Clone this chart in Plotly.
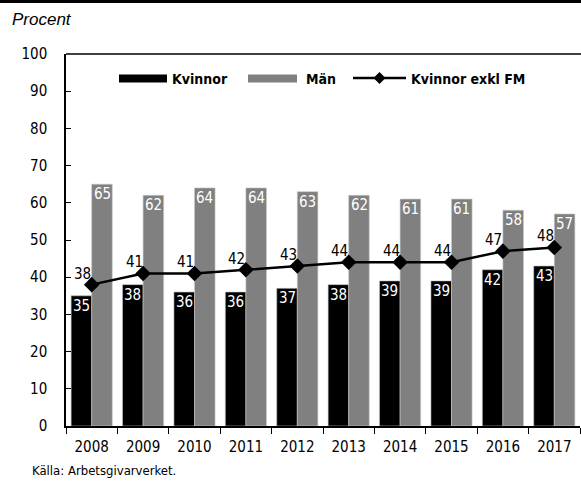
import plotly.graph_objects as go

years = ["2008", "2009", "2010", "2011", "2012", "2013", "2014", "2015", "2016", "2017"]
kvinnor = [35, 38, 36, 36, 37, 38, 39, 39, 42, 43]
man = [65, 62, 64, 64, 63, 62, 61, 61, 58, 57]
kvinnor_exkl_fm = [38, 41, 41, 42, 43, 44, 44, 44, 47, 48]
y_ticks = list(range(0, 101, 10))

W, H = 581, 484
L, R, T, B = 66, 1, 54, 58
PW, PH = W - L - R, H - T - B

def px_x(x):
    return (x - L) / PW

def px_y(y):
    return 1 - (y - T) / PH

NARROW = "DejaVu Sans Condensed, Liberation Sans Narrow, sans-serif"
REG = "Liberation Sans, Arial, sans-serif"

BAR_SHIFT = 10.3  # half of a bar's pixel width in group

fig = go.Figure()
fig.add_trace(go.Bar(
    x=years, y=kvinnor, name="Kvinnor",
    marker=dict(color="#000000", line=dict(color="#bdbdbd", width=0.6)),
    showlegend=False,
))
fig.add_trace(go.Bar(
    x=years, y=man, name="Män",
    marker=dict(color="#808080", line=dict(color="#c8c8c8", width=0.6)),
    showlegend=False,
))
fig.add_trace(go.Scatter(
    x=years, y=kvinnor_exkl_fm, name="Kvinnor exkl FM", mode="lines+markers",
    line=dict(color="black", width=2.5),
    marker=dict(symbol="diamond", size=12, color="black"),
    showlegend=False, cliponaxis=False,
))

shapes = []
annotations = []
# bar value labels (white, inside top); x given as category index
for i, v in enumerate(kvinnor):
    annotations.append(dict(text=str(v), xref="x", yref="y", x=i, y=v,
                            xshift=-BAR_SHIFT, yshift=1, xanchor="center", yanchor="top",
                            showarrow=False, font=dict(size=15, family=NARROW, color="white")))
for i, v in enumerate(man):
    annotations.append(dict(text=str(v), xref="x", yref="y", x=i, y=v,
                            xshift=BAR_SHIFT, yshift=1, xanchor="center", yanchor="top",
                            showarrow=False, font=dict(size=15, family=NARROW, color="white")))
# line value labels, above-left of each marker
for i, v in enumerate(kvinnor_exkl_fm):
    annotations.append(dict(text=str(v), xref="x", yref="y", x=i, y=v,
                            xshift=-9, yshift=11, xanchor="center", yanchor="middle",
                            showarrow=False, font=dict(size=15, family=NARROW, color="black")))
# top thick rule
shapes.append(dict(type="line", xref="paper", yref="paper",
                   x0=px_x(0), x1=px_x(581), y0=px_y(1.5), y1=px_y(1.5),
                   line=dict(color="black", width=3)))
# top frame line
shapes.append(dict(type="line", xref="paper", yref="paper",
                   x0=0, x1=px_x(581), y0=1, y1=1,
                   line=dict(color="black", width=1.5)))
# custom legend
ly = 78.5
shapes.append(dict(type="rect", xref="paper", yref="paper",
                   x0=px_x(119), x1=px_x(167), y0=px_y(74.5), y1=px_y(82.5),
                   fillcolor="black", line=dict(width=0)))
annotations.append(dict(text="<b>Kvinnor</b>", xref="paper", yref="paper",
                        x=px_x(170), y=px_y(ly), xanchor="left", yanchor="middle",
                        showarrow=False, font=dict(size=14, family=NARROW, color="black")))
shapes.append(dict(type="rect", xref="paper", yref="paper",
                   x0=px_x(248), x1=px_x(297), y0=px_y(74.5), y1=px_y(82.5),
                   fillcolor="#808080", line=dict(width=0)))
annotations.append(dict(text="<b>Män</b>", xref="paper", yref="paper",
                        x=px_x(304), y=px_y(ly), xanchor="left", yanchor="middle",
                        showarrow=False, font=dict(size=14, family=NARROW, color="black")))
shapes.append(dict(type="line", xref="paper", yref="paper",
                   x0=px_x(353), x1=px_x(406), y0=px_y(78), y1=px_y(78),
                   line=dict(color="black", width=2.5)))
shapes.append(dict(type="path", xref="paper", yref="paper",
                   path="M {} {} L {} {} L {} {} L {} {} Z".format(
                       px_x(373.5), px_y(78), px_x(379.5), px_y(72), px_x(385.5), px_y(78), px_x(379.5), px_y(84)),
                   fillcolor="black", line=dict(width=0)))
annotations.append(dict(text="<b>Kvinnor exkl FM</b>", xref="paper", yref="paper",
                        x=px_x(409), y=px_y(ly), xanchor="left", yanchor="middle",
                        showarrow=False, font=dict(size=14, family=NARROW, color="black")))
# Procent label
annotations.append(dict(text="<i>Procent</i>", xref="paper", yref="paper",
                        x=px_x(10), y=px_y(19), xanchor="left", yanchor="middle",
                        showarrow=False, font=dict(size=17, family=REG, color="black")))
# Source
annotations.append(dict(text="Källa: Arbetsgivarverket.", xref="paper", yref="paper",
                        x=px_x(30), y=px_y(471), xanchor="left", yanchor="middle",
                        showarrow=False, font=dict(size=13, family=NARROW, color="black")))

fig.update_layout(
    width=W, height=H,
    margin=dict(l=L, r=R, t=T, b=B),
    paper_bgcolor="white", plot_bgcolor="white",
    barmode="group", bargap=0.2, bargroupgap=0,
    shapes=shapes, annotations=annotations,
    font=dict(family=NARROW, color="black"),
)
fig.update_xaxes(
    type="category", range=[-0.5, len(years) - 0.5],
    showline=True, linecolor="black", linewidth=1.5,
    ticks="outside", ticklen=6, tickcolor="black", tickwidth=1.2,
    tickson="boundaries", showgrid=False, zeroline=False,
    tickfont=dict(size=15, family=NARROW, color="black"),
    ticklabelstandoff=6, automargin=False,
)
fig.update_yaxes(
    range=[0, 100], tickvals=y_ticks, showline=True, linecolor="black", linewidth=1.5,
    ticks="inside", ticklen=5, tickcolor="black", tickwidth=1.2,
    showgrid=False, zeroline=False,
    tickfont=dict(size=15, family=NARROW, color="black"),
    ticklabelstandoff=14, automargin=False,
)

fig.write_html("out.html", config={"displayModeBar": False},
               post_script="document.body.style.margin='0';")
